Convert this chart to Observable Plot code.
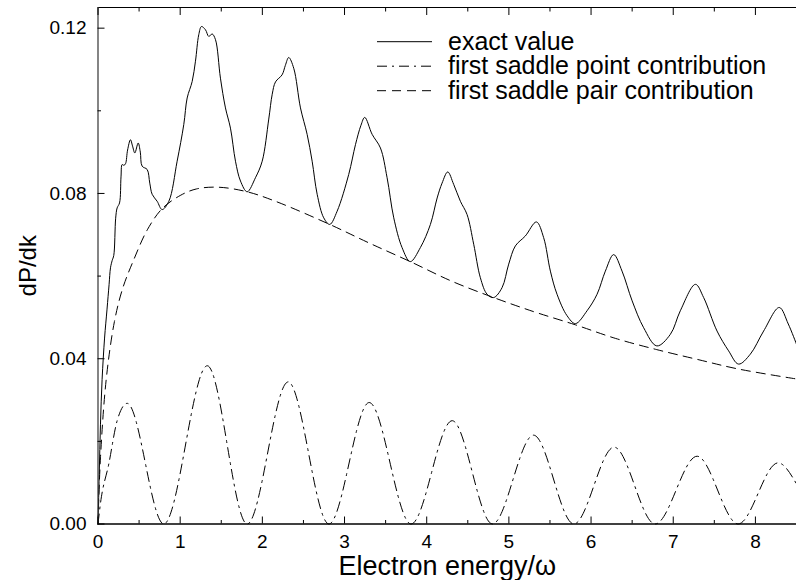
<!DOCTYPE html>
<html><head><meta charset="utf-8">
<script src="https://cdn.jsdelivr.net/npm/d3@7"></script>
<script src="https://cdn.jsdelivr.net/npm/@observablehq/plot@0.6"></script>
<style>body{margin:0;background:#fff}#chart{width:796px;height:580px}</style>
</head><body><div id="chart"></div>
<script>
// exact value
const exactEnergy = [0,0.015,0.03,0.05,0.08,0.11,0.135,0.152,0.173,0.192,0.215,0.233,0.262,0.28,0.294,0.315,0.335,0.36,0.395,0.42,0.448,0.489,0.515,0.537,0.598,0.63,0.659,0.72,0.78,0.862,0.963,1.044,1.085,1.146,1.186,1.226,1.259,1.308,1.348,1.389,1.43,1.49,1.551,1.612,1.673,1.734,1.815,1.916,1.998,2.078,2.12,2.16,2.24,2.28,2.321,2.382,2.464,2.545,2.606,2.667,2.747,2.82,2.91,3.051,3.133,3.2,3.246,3.336,3.437,3.518,3.599,3.70,3.80,3.923,4.045,4.127,4.187,4.256,4.328,4.41,4.491,4.572,4.653,4.735,4.815,4.917,4.998,5.079,5.20,5.335,5.423,5.505,5.586,5.708,5.81,5.951,6.073,6.174,6.275,6.377,6.50,6.64,6.80,6.965,7.086,7.27,7.37,7.533,7.674,7.795,7.938,8.10,8.29,8.40,8.5];
const exactValue = [0,0.012,0.024,0.035,0.045,0.052,0.058,0.062,0.0638,0.0650,0.0740,0.0765,0.0777,0.0840,0.0870,0.0868,0.0872,0.0905,0.0930,0.0915,0.0898,0.0922,0.0900,0.0866,0.0858,0.0825,0.0798,0.0781,0.0761,0.0781,0.0878,0.0967,0.1031,0.1071,0.1120,0.1184,0.1204,0.1196,0.1180,0.1186,0.1172,0.1079,0.1007,0.0958,0.0878,0.0830,0.0804,0.0838,0.0878,0.0980,0.1040,0.1070,0.1087,0.1110,0.1129,0.1103,0.1007,0.0943,0.0878,0.0798,0.0741,0.0725,0.0757,0.0846,0.0918,0.0965,0.0984,0.0943,0.0910,0.0838,0.0741,0.0669,0.0635,0.0669,0.0725,0.0789,0.0825,0.0852,0.0822,0.0781,0.0749,0.0677,0.0596,0.0556,0.0548,0.0572,0.0629,0.0673,0.0697,0.0731,0.0693,0.0612,0.0556,0.0504,0.0485,0.0516,0.0556,0.0612,0.0652,0.0612,0.0540,0.0475,0.0431,0.0459,0.0516,0.0580,0.0548,0.0467,0.0419,0.0387,0.0411,0.0467,0.0524,0.0484,0.0435];
// first saddle point contribution
const pointEnergy = [0,0.03,0.131,0.233,0.355,0.80,1.33,1.815,2.314,2.81,3.30,3.81,4.31,4.80,5.30,5.79,6.28,6.78,7.29,7.79,8.275,8.5];
const pointValue = [0,0.005,0.0145,0.025,0.0292,0,0.0383,0,0.0344,0,0.0294,0,0.0250,0,0.0215,0,0.0186,0,0.0164,0,0.0148,0.0097];
// first saddle pair contribution
const pairEnergy = [0,0.03,0.1,0.2,0.3,0.436,0.6,0.78,1.0,1.2,1.47,1.815,2.16,2.82,3.3,3.80,4.3,4.815,5.3,5.81,6.3,6.8,7.3,7.795,8.5];
const pairValue = [0,0.016,0.035,0.049,0.057,0.064,0.0712,0.0763,0.0795,0.0811,0.0815,0.0804,0.0781,0.0725,0.0680,0.0635,0.0588,0.0548,0.0514,0.0482,0.0449,0.0422,0.0398,0.0375,0.0351];

const xDomain = [0, 8.5];
const yDomain = [0, 0.125];
const xMajorTicks = [0,1,2,3,4,5,6,7,8];
const xMinorTicks = [0.5,1.5,2.5,3.5,4.5,5.5,6.5,7.5];
const yMajorTicks = [0,0.04,0.08,0.12];
const yTickLabels = ["0.00","0.04","0.08","0.12"];
const yMinorTicks = [0.02,0.06,0.10];
const xLabel = "Electron energy/\u03c9";
const yLabel = "dP/dk";
const seriesNames = ["exact value","first saddle point contribution","first saddle pair contribution"];
const seriesDash = [null, "10,5,2,5", "9,6"];

const toRows = (xs, ys) => xs.map((x, i) => ({x, y: ys[i]}));
const exact = toRows(exactEnergy, exactValue);
const point = toRows(pointEnergy, pointValue);
const pair = toRows(pairEnergy, pairValue);

const font = "'Liberation Sans', Arial, Helvetica, sans-serif";

const chart = Plot.plot({
  width: 796, height: 580,
  marginLeft: 97.5, marginRight: 0, marginTop: 7, marginBottom: 56.5,
  x: {domain: xDomain},
  y: {domain: yDomain},
  style: {fontFamily: font, background: "white", color: "black", overflow: "visible"},
  marks: [
    Plot.line(exact, {x: "x", y: "y", curve: "catmull-rom", stroke: "black", strokeWidth: 1}),
    Plot.line(point, {x: "x", y: "y", curve: "monotone-x", stroke: "black", strokeWidth: 1, strokeDasharray: seriesDash[1]}),
    Plot.line(pair, {x: "x", y: "y", curve: "catmull-rom", stroke: "black", strokeWidth: 1, strokeDasharray: seriesDash[2]}),
    Plot.ruleY([yDomain[0]], {stroke: "black", strokeWidth: 1.5}),
    Plot.ruleY([yDomain[1]], {stroke: "black", strokeWidth: 1}),
    Plot.ruleX([xDomain[0]], {stroke: "#333", strokeWidth: 1.2}),
    Plot.axisX(xMajorTicks, {anchor: "bottom", tickSize: -7, tickFormat: () => "", label: null}),
    Plot.axisX(xMinorTicks, {anchor: "bottom", tickSize: -3.5, tickFormat: () => "", label: null}),
    Plot.axisX(xMajorTicks, {anchor: "top", tickSize: -7, tickFormat: () => "", label: null}),
    Plot.axisX(xMinorTicks, {anchor: "top", tickSize: -3.5, tickFormat: () => "", label: null}),
    Plot.axisX(xMajorTicks, {anchor: "bottom", tickSize: 0, tickPadding: 10, fontSize: 19, tickFormat: d => String(d), label: null}),
    Plot.axisY(yMajorTicks, {anchor: "left", tickSize: -7, tickFormat: () => "", label: null}),
    Plot.axisY(yMinorTicks, {anchor: "left", tickSize: -3.5, tickFormat: () => "", label: null}),
    Plot.axisY(yMajorTicks, {anchor: "left", tickSize: 0, tickPadding: 11.5, fontSize: 19, tickFormat: (d) => yTickLabels[yMajorTicks.indexOf(d)], label: null}),
    Plot.text([xLabel], {frameAnchor: "bottom", dy: 42, fontSize: 27, textAnchor: "middle", lineAnchor: "middle", fill: "black"}),
    Plot.text([yLabel], {frameAnchor: "left", dx: -70, rotate: -90, fontSize: 24, textAnchor: "middle", lineAnchor: "middle", fill: "black"})
  ]
});
document.getElementById("chart").appendChild(chart);

// legend
const svg = d3.select(chart);
const lg = svg.append("g").attr("font-family", font).attr("font-size", 25).attr("text-anchor", "start");
seriesNames.forEach((name, i) => {
  const y = 41.7 + i * 24.5;
  lg.append("line").attr("x1", 377).attr("x2", 432).attr("y1", y).attr("y2", y)
    .attr("stroke", "black").attr("stroke-width", 1)
    .attr("stroke-dasharray", seriesDash[i]);
  lg.append("text").attr("x", 448).attr("y", y).attr("dy", "0.32em")
    .attr("text-anchor", "start").attr("fill", "black").text(name);
});
</script>
</body></html>
